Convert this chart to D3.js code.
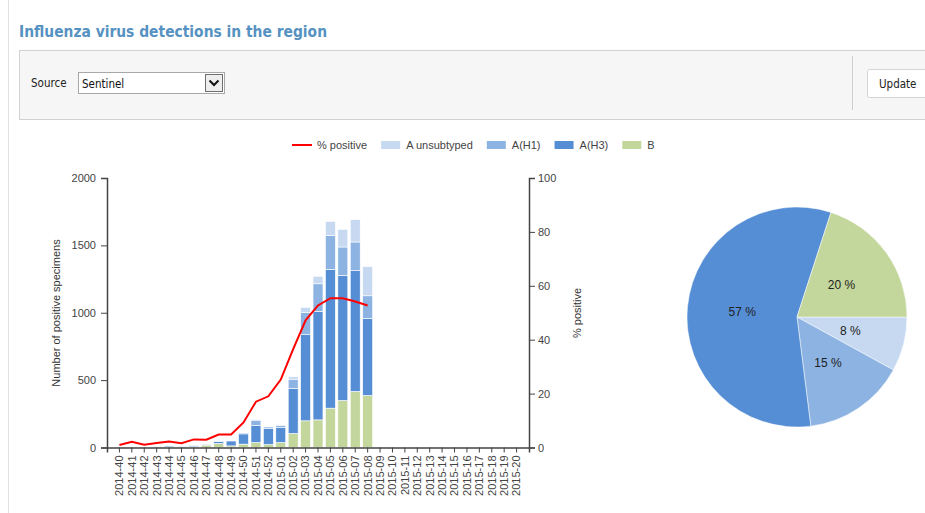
<!DOCTYPE html>
<html>
<head>
<meta charset="utf-8">
<script src="https://cdn.jsdelivr.net/npm/d3@7/dist/d3.min.js"></script>
<style>
  body { margin: 0; background: #fff; }
  svg { display: block; }
  .axis text { font-family: "Liberation Sans", Arial, sans-serif; font-size: 11px; fill: #444; }
  .axis path, .axis line { stroke: #444; }
</style>
</head>
<body>
<div id="chart"></div>
<script>
// Influenza virus detections - stacked bars + % positive line + pie
var svgWidth = 925;
var svgHeight = 513;

// week labels on the x axis
var weeks = ["2014-40", "2014-41", "2014-42", "2014-43", "2014-44", "2014-45", "2014-46",
  "2014-47", "2014-48", "2014-49", "2014-50", "2014-51", "2014-52", "2015-01", "2015-02",
  "2015-03", "2015-04", "2015-05", "2015-06", "2015-07", "2015-08", "2015-09", "2015-10",
  "2015-11", "2015-12", "2015-13", "2015-14", "2015-15", "2015-16", "2015-17", "2015-18",
  "2015-19", "2015-20"];

// positive specimens per week (only first 21 weeks reported)
var bValues = [1, 1, 0, 1, 2, 2, 6, 18, 30, 12, 25, 37, 22, 37, 104, 198, 205, 292, 349, 416, 386];
var h3Values = [2, 2, 2, 3, 9, 7, 10, 6, 14, 37, 76, 126, 119, 111, 334, 639, 805, 1030, 928, 896, 572];
var h1Values = [0, 0, 1, 1, 2, 2, 3, 4, 4, 2, 8, 40, 12, 15, 69, 165, 205, 252, 211, 213, 168];
var unsubValues = [0, 0, 0, 0, 1, 1, 2, 2, 2, 1, 2, 5, 5, 5, 18, 38, 55, 104, 131, 166, 216];

// % positive per week
var pctPositive = [0.9, 2.1, 1.0, 1.7, 2.2, 1.6, 3.0, 2.9, 4.8, 4.8, 9.3, 17.0, 19.0, 25.2,
  36.5, 47.2, 52.7, 55.4, 55.4, 54.2, 52.7];

// pie: share of each virus type (%)
var pieLabels = ["A unsubtyped", "A(H1)", "A(H3)", "B"];
var pieShares = [8, 15, 57, 20];

var colors = {
  "A unsubtyped": "#c6d9f1",
  "A(H1)": "#8db3e2",
  "A(H3)": "#558ed5",
  "B": "#c3d69b"
};

var svg = d3.select("#chart")
  .append("svg")
  .attr("width", svgWidth)
  .attr("height", svgHeight)
  .style("font-family", "'Liberation Sans', Arial, sans-serif");

// ---- page chrome ----
svg.append("line")
  .attr("x1", 8.5).attr("x2", 8.5).attr("y1", 0).attr("y2", svgHeight)
  .attr("stroke", "#e2e2e2");

svg.append("text")
  .attr("x", 19)
  .attr("y", 37)
  .style("font-family", "'DejaVu Sans Condensed', 'DejaVu Sans', sans-serif")
  .style("font-weight", "bold")
  .style("font-size", "15.5px")
  .attr("fill", "#5592c2")
  .attr("textLength", 308)
  .attr("lengthAdjust", "spacingAndGlyphs")
  .text("Influenza virus detections in the region");

svg.append("rect")
  .attr("x", 19.5).attr("y", 50.5)
  .attr("width", 920).attr("height", 69)
  .attr("fill", "#f6f6f6")
  .attr("stroke", "#d2d2d2");

var uiFont = "'DejaVu Sans Condensed', 'DejaVu Sans', sans-serif";

svg.append("text")
  .attr("x", 31).attr("y", 87)
  .style("font-family", uiFont).style("font-size", "11.5px")
  .attr("fill", "#222")
  .text("Source");

svg.append("rect")
  .attr("x", 78.5).attr("y", 72.5)
  .attr("width", 146).attr("height", 21)
  .attr("fill", "#fff").attr("stroke", "#a8a8a8");

svg.append("text")
  .attr("x", 82).attr("y", 87.5)
  .style("font-family", uiFont).style("font-size", "11.5px")
  .attr("fill", "#111")
  .text("Sentinel");

svg.append("rect")
  .attr("x", 205.5).attr("y", 74.5)
  .attr("width", 17).attr("height", 17)
  .attr("fill", "#eeeeee").attr("stroke", "#6e6e6e");

svg.append("path")
  .attr("d", "M209.5,80.5 L214,85 L218.5,80.5")
  .attr("fill", "none").attr("stroke", "#111").attr("stroke-width", 2);

svg.append("line")
  .attr("x1", 852.5).attr("x2", 852.5).attr("y1", 56).attr("y2", 110)
  .attr("stroke", "#cfcfcf");

svg.append("rect")
  .attr("x", 867.5).attr("y", 69.5)
  .attr("width", 70).attr("height", 28).attr("rx", 2)
  .attr("fill", "#fff").attr("stroke", "#d4d4d4");

svg.append("text")
  .attr("x", 879).attr("y", 88)
  .style("font-family", uiFont).style("font-size", "11.5px")
  .attr("fill", "#222")
  .text("Update");

// ---- bar chart ----
var x = d3.scaleBand()
  .domain(weeks)
  .range([107, 529])
  .paddingInner(0.2)
  .paddingOuter(0.6);

var yLeft = d3.scaleLinear().domain([0, 2000]).range([447.5, 178]);
var yRight = d3.scaleLinear().domain([0, 100]).range([447.5, 178]);

var rows = bValues.map(function (b, i) {
  return {
    week: weeks[i],
    "B": b,
    "A(H3)": h3Values[i],
    "A(H1)": h1Values[i],
    "A unsubtyped": unsubValues[i]
  };
});

var stackKeys = ["B", "A(H3)", "A(H1)", "A unsubtyped"];
var series = d3.stack().keys(stackKeys)(rows);

var chartGroup = svg.append("g");

chartGroup.selectAll("g.layer")
  .data(series)
  .enter()
  .append("g")
  .attr("class", "layer")
  .attr("fill", function (d) { return colors[d.key]; })
  .selectAll("rect")
  .data(function (d) { return d; })
  .enter()
  .append("rect")
  .attr("x", function (d) { return x(d.data.week); })
  .attr("width", x.bandwidth())
  .attr("y", function (d) { return yLeft(d[1]); })
  .attr("height", function (d) { return Math.max(0, yLeft(d[0]) - yLeft(d[1])); })
  .attr("stroke", "#fff")
  .attr("stroke-width", 0.6);

// % positive line
var line = d3.line()
  .x(function (d, i) { return x(weeks[i]) + x.bandwidth() / 2; })
  .y(function (d) { return yRight(d); });

chartGroup.append("path")
  .datum(pctPositive)
  .attr("d", line)
  .attr("fill", "none")
  .attr("stroke", "#ff0000")
  .attr("stroke-width", 2);

// axes
var leftAxis = d3.axisLeft(yLeft).tickValues([0, 500, 1000, 1500, 2000])
  .tickFormat(d3.format("d")).tickSizeOuter(0).tickSize(6);
var rightAxis = d3.axisRight(yRight).tickValues([0, 20, 40, 60, 80, 100])
  .tickFormat(d3.format("d")).tickSizeOuter(0).tickSize(6);
var bottomAxis = d3.axisBottom(x).tickSizeOuter(0).tickSize(5);

svg.append("g")
  .attr("class", "axis")
  .attr("transform", "translate(107,0)")
  .call(leftAxis)
  .call(function (g) { g.select(".domain").attr("stroke-width", 1.5); })
  .selectAll("text").attr("dx", "-2");

svg.append("g")
  .attr("class", "axis")
  .attr("transform", "translate(529,0)")
  .call(rightAxis)
  .call(function (g) { g.select(".domain").attr("stroke-width", 1.5); })
  .selectAll("text").attr("dx", "0");

var xAxisG = svg.append("g")
  .attr("class", "axis")
  .attr("transform", "translate(0,447.5)")
  .call(bottomAxis);

xAxisG.select(".domain").attr("stroke-width", 1.5);

xAxisG.selectAll("text")
  .attr("transform", "rotate(-90)")
  .attr("text-anchor", "end")
  .attr("x", -8)
  .attr("y", 0)
  .attr("dy", "0.35em");

// axis titles
svg.append("text")
  .attr("transform", "translate(60,313) rotate(-90)")
  .attr("text-anchor", "middle")
  .style("font-size", "11px")
  .attr("fill", "#333")
  .text("Number of positive specimens");

svg.append("text")
  .attr("transform", "translate(581,313) rotate(-90)")
  .attr("text-anchor", "middle")
  .style("font-size", "11px")
  .attr("fill", "#333")
  .text("% positive");

// ---- legend ----
var legend = svg.append("g").attr("transform", "translate(292,145)");
var lx = 0;

legend.append("line")
  .attr("x1", 0).attr("x2", 20).attr("y1", 0).attr("y2", 0)
  .attr("stroke", "#ff0000").attr("stroke-width", 2);
var firstText = legend.append("text")
  .attr("x", 25).attr("y", 4)
  .style("font-size", "11px").attr("fill", "#444")
  .text("% positive");
lx = 25 + firstText.node().getComputedTextLength() + 14;

pieLabels.forEach(function (label) {
  legend.append("rect")
    .attr("x", lx).attr("y", -4)
    .attr("width", 19).attr("height", 8)
    .attr("fill", colors[label]);
  var t = legend.append("text")
    .attr("x", lx + 25).attr("y", 4)
    .style("font-size", "11px").attr("fill", "#444")
    .text(label);
  lx = lx + 25 + t.node().getComputedTextLength() + 14;
});

// ---- pie ----
var radius = 110;
var pieGroup = svg.append("g").attr("transform", "translate(797,317)");

var pie = d3.pie()
  .sort(null)
  .startAngle(Math.PI / 2)
  .endAngle(Math.PI / 2 + 2 * Math.PI)
  .value(function (d) { return d; });

var arc = d3.arc().innerRadius(0).outerRadius(radius);
var labelArc = d3.arc().innerRadius(radius * 0.5).outerRadius(radius * 0.5);

var slices = pie(pieShares);

pieGroup.selectAll("path")
  .data(slices)
  .enter()
  .append("path")
  .attr("d", arc)
  .attr("fill", function (d, i) { return colors[pieLabels[i]]; })
  .attr("stroke", "#fff")
  .attr("stroke-width", 0.5);

pieGroup.selectAll("text.pct")
  .data(slices)
  .enter()
  .append("text")
  .attr("class", "pct")
  .attr("transform", function (d) { return "translate(" + labelArc.centroid(d) + ")"; })
  .attr("text-anchor", "middle")
  .attr("dy", "0.35em")
  .style("font-size", "12px")
  .attr("fill", "#222")
  .text(function (d) { return d.data + " %"; });
</script>
</body>
</html>
